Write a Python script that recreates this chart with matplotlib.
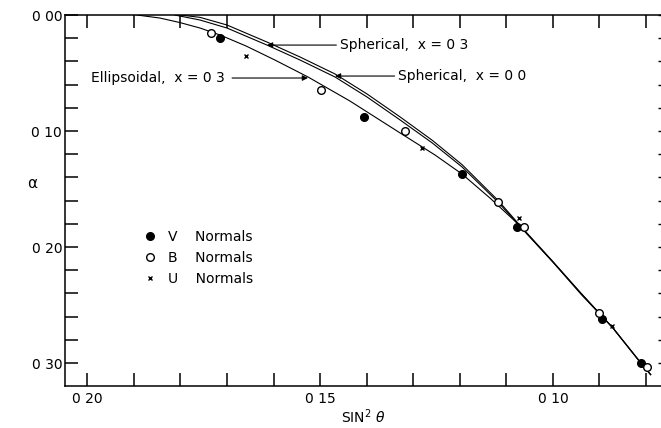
import matplotlib
matplotlib.use("Agg")
import matplotlib.pyplot as plt
from matplotlib.ticker import FixedLocator, FixedFormatter

# ---- data ----
v_x = [0.1714, 0.1405, 0.1195, 0.1078, 0.0894, 0.0811]
v_y = [0.0201, 0.0877, 0.1373, 0.1825, 0.2623, 0.3003]

b_x = [0.1734, 0.1499, 0.1317, 0.1118, 0.1061, 0.0900, 0.0797]
b_y = [0.0158, 0.0649, 0.1000, 0.1615, 0.1830, 0.2572, 0.3037]

u_x = [0.1659, 0.1282, 0.1072, 0.0874]
u_y = [0.0353, 0.1149, 0.1747, 0.2681]

sph00_x = [0.1812, 0.1758, 0.1700, 0.1614, 0.1543, 0.1468, 0.1399, 0.1328, 0.1259,
           0.1195, 0.1118, 0.1077, 0.1000, 0.0940, 0.0871, 0.0811, 0.0790]
sph00_y = [0.0000, 0.0043, 0.0112, 0.0259, 0.0388, 0.0534, 0.0707, 0.0905, 0.1103,
           0.1310, 0.1612, 0.1793, 0.2129, 0.2397, 0.2698, 0.3000, 0.3100]

sph03_x = [0.1800, 0.1758, 0.1700, 0.1614, 0.1543, 0.1468, 0.1399, 0.1328, 0.1259,
           0.1195, 0.1118, 0.1077, 0.1000, 0.0940, 0.0871, 0.0811, 0.0790]
sph03_y = [0.0000, 0.0020, 0.0086, 0.0233, 0.0362, 0.0508, 0.0681, 0.0879, 0.1080,
           0.1290, 0.1597, 0.1785, 0.2125, 0.2397, 0.2698, 0.3000, 0.3100]

ell_x = [0.1893, 0.1844, 0.1801, 0.1758, 0.1715, 0.1659, 0.1597, 0.1526, 0.1436,
         0.1328, 0.1253, 0.1195, 0.1135, 0.1077, 0.1000, 0.0940, 0.0871, 0.0811, 0.0790]
ell_y = [0.0000, 0.0026, 0.0065, 0.0112, 0.0172, 0.0267, 0.0388, 0.0534, 0.0741,
         0.1017, 0.1207, 0.1371, 0.1578, 0.1793, 0.2129, 0.2405, 0.2698, 0.3000, 0.3100]

x_ticks = [round(0.20 - 0.01 * i, 2) for i in range(13)]
x_labels = {0.20: "0 20", 0.15: "0 15", 0.10: "0 10"}
y_ticks = [round(0.02 * i, 2) for i in range(16)]
y_labels = {0.0: "0 00", 0.1: "0 10", 0.2: "0 20", 0.3: "0 30"}

plt.rcParams["font.family"] = "DejaVu Sans"

fig = plt.figure(figsize=(6.61, 4.28), dpi=100)
ax = fig.add_axes([0.0983, 0.0981, 0.9017, 0.8668])

lw = 0.8
ax.plot(sph00_x, sph00_y, color="black", lw=lw)
ax.plot(sph03_x, sph03_y, color="black", lw=lw)
ax.plot(ell_x, ell_y, color="black", lw=lw)

ax.plot(v_x, v_y, "o", color="black", ms=5.5, label="V    Normals")
ax.plot(b_x, b_y, "o", mfc="white", mec="black", mew=1.0, ms=5.5, label="B    Normals")
ax.plot(u_x, u_y, "x", color="black", ms=3.5, mew=1.0, label="U    Normals")

ax.set_xlim(0.20479, 0.07678)
ax.set_ylim(0.3198, 0.0)

ax.xaxis.set_major_locator(FixedLocator(x_ticks))
ax.xaxis.set_major_formatter(FixedFormatter([x_labels.get(t, "") for t in x_ticks]))
ax.yaxis.set_major_locator(FixedLocator(y_ticks))
ax.yaxis.set_major_formatter(FixedFormatter([y_labels.get(t, "") for t in y_ticks]))

ax.tick_params(axis="x", direction="in", length=9.5, width=1.1, top=True,
               labelsize=10, pad=4)
ax.tick_params(axis="y", direction="in", length=9.5, width=1.1, right=False,
               labelsize=10, pad=2)

# short ticks on the right edge, from a twin axis
rax = ax.twinx()
rax.set_ylim(ax.get_ylim())
rax.yaxis.set_major_locator(FixedLocator(y_ticks))
rax.tick_params(axis="y", direction="in", length=2.5, width=1.0, labelright=False)
for s in rax.spines.values():
    s.set_visible(False)

ax.spines["right"].set_visible(False)
for s in ["left", "top", "bottom"]:
    ax.spines[s].set_linewidth(1.1)

ax.set_xlabel("SIN$^2$ $\\theta$", fontsize=10, labelpad=1)
ax.set_ylabel("α", fontsize=11, rotation=0, va="center")
ax.yaxis.set_label_coords(-0.0554, 0.547)

arrow = dict(arrowstyle="-|>", color="black", lw=0.8, mutation_scale=8,
             shrinkA=0, shrinkB=0)
ax.annotate("", xy=(0.1614, 0.0259), xytext=(0.1465, 0.0259), arrowprops=arrow)
ax.text(0.1457, 0.0259, "Spherical,  x = 0 3", fontsize=10, va="center", ha="left")
ax.annotate("", xy=(0.1468, 0.0526), xytext=(0.1340, 0.0526), arrowprops=arrow)
ax.text(0.1333, 0.0526, "Spherical,  x = 0 0", fontsize=10, va="center", ha="left")
ax.annotate("", xy=(0.1526, 0.0543), xytext=(0.1689, 0.0543), arrowprops=arrow)
ax.text(0.1704, 0.0543, "Ellipsoidal,  x = 0 3", fontsize=10, va="center", ha="right")

ax.legend(loc="upper left", bbox_to_anchor=(0.131, 0.4205), frameon=False,
          fontsize=10, handlelength=1.0, handletextpad=0.8, labelspacing=0.5,
          borderpad=0, borderaxespad=0)

fig.savefig("out.png", dpi=100)
